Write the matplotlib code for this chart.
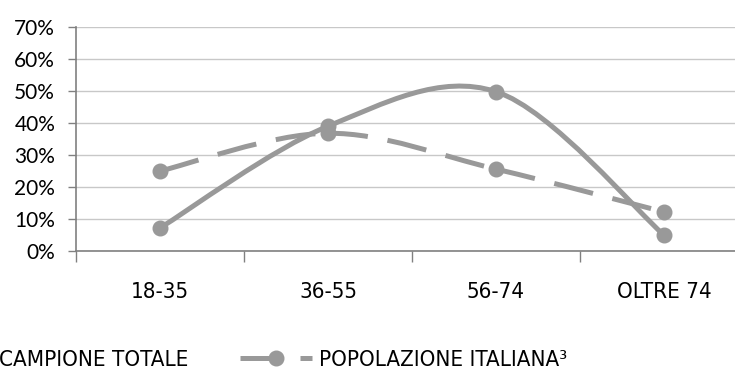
import matplotlib
matplotlib.use("Agg")
from matplotlib import pyplot as plt
from matplotlib.path import Path
from matplotlib.patches import PathPatch
from matplotlib.lines import Line2D

# data
categories = ["18-35", "36-55", "56-74", "OLTRE 74"]
campioneTotale = [7.2, 39.0, 49.8, 5.0]
popolazioneItaliana = [25.0, 36.8, 25.6, 12.2]
seriesNames = ["CAMPIONE TOTALE", "POPOLAZIONE ITALIANA\u00b3"]
yTicks = [0, 10, 20, 30, 40, 50, 60, 70]

GREY = "#999999"
LW = 3.6
DASH = (8, 4)
labelFont = dict(family="DejaVu Sans", stretch="condensed", size=16)


def smoothSegments(xs, ys):
    # excel-like smoothing: one bezier per pair of neighbouring points
    n = len(xs)
    segs = []
    for i in range(n - 1):
        x0, y0 = xs[max(i - 1, 0)], ys[max(i - 1, 0)]
        x1, y1 = xs[i], ys[i]
        x2, y2 = xs[i + 1], ys[i + 1]
        x3, y3 = xs[min(i + 2, n - 1)], ys[min(i + 2, n - 1)]
        c1 = (x1 + (x2 - x0) / 6, y1 + (y2 - y0) / 6)
        c2 = (x2 - (x3 - x1) / 6, y2 - (y3 - y1) / 6)
        segs.append(Path([(x1, y1), c1, c2, (x2, y2)],
                         [Path.MOVETO, Path.CURVE4, Path.CURVE4, Path.CURVE4]))
    return segs


fig = plt.figure(figsize=(7.35, 3.67), dpi=100)
ax = fig.add_axes([76 / 735, 116 / 367, 672 / 735, 224 / 367])

xPos = list(range(len(categories)))

for seg in smoothSegments(xPos, campioneTotale):
    ax.add_patch(PathPatch(seg, fill=False, edgecolor=GREY, lw=LW,
                           capstyle="butt", joinstyle="round", zorder=3))
for seg in smoothSegments(xPos, popolazioneItaliana):
    ax.add_patch(PathPatch(seg, fill=False, edgecolor=GREY, lw=LW,
                           linestyle=(0, DASH), capstyle="butt", zorder=3))

ax.plot(xPos, campioneTotale, linestyle="none", marker="o", markersize=10.5,
        color=GREY, zorder=4)
ax.plot(xPos, popolazioneItaliana, linestyle="none", marker="o", markersize=10.5,
        color=GREY, zorder=4)

ax.set_xlim(-0.5, len(categories) - 0.5)
ax.set_ylim(0, 70)

# y axis
ax.set_yticks(yTicks)
ax.set_yticklabels([f"{v}%" for v in yTicks], family="Lato", size=15)
ax.yaxis.grid(True, color="#c8c8c8", lw=1)
ax.set_axisbelow(True)
ax.tick_params(axis="y", length=6, width=1, color="#808080", pad=9)

# x axis: ticks between categories, labels in the middle
ax.set_xticks([i - 0.5 for i in range(len(categories) + 1)])
ax.set_xticklabels([])
ax.set_xticks(xPos, minor=True)
ax.set_xticklabels(categories, minor=True, **labelFont)
ax.tick_params(axis="x", which="major", length=8, width=1, color="#808080")
ax.tick_params(axis="x", which="minor", length=0, pad=22)

for side in ["top", "right"]:
    ax.spines[side].set_visible(False)
for side in ["left", "bottom"]:
    ax.spines[side].set_color("#808080")
    ax.spines[side].set_linewidth(1.2)

# the reference is cropped on the left, so the first legend key sits off the figure
handles = [
    Line2D([], [], color=GREY, lw=LW, marker="o", markersize=10.5, solid_capstyle="butt"),
    Line2D([], [], color=GREY, lw=LW, marker="o", markersize=10.5, dashes=DASH,
           dash_capstyle="butt"),
]
fig.legend(handles, seriesNames, loc="center left", bbox_to_anchor=(-80 / 735, 7 / 367),
           ncol=2, frameon=False, borderpad=0, borderaxespad=0, handlelength=3.24,
           handletextpad=0.32, columnspacing=2.3, prop=labelFont)

fig.savefig("out.png", dpi=100)
